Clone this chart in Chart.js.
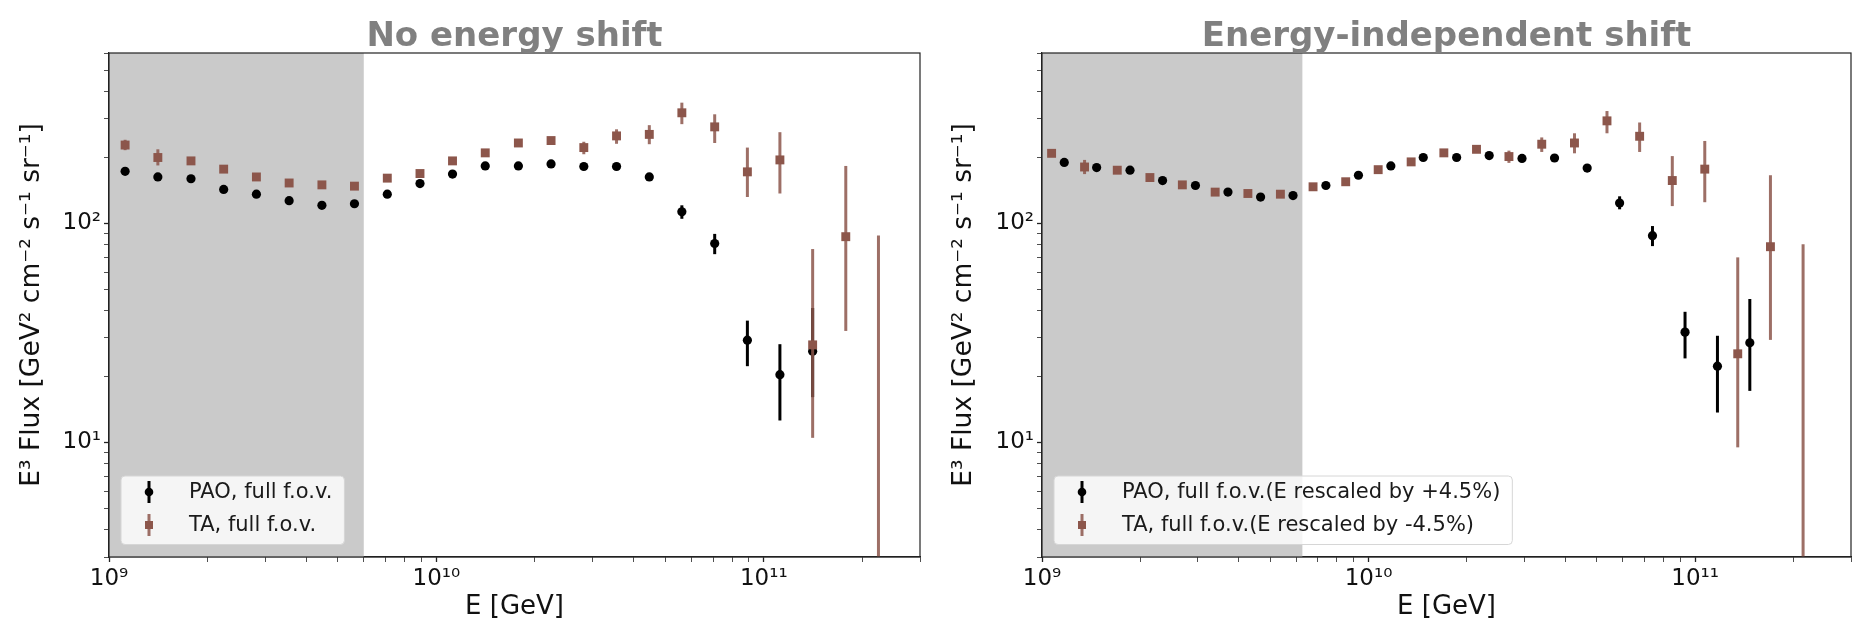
<!DOCTYPE html>
<html>
<head>
<meta charset="utf-8">
<script src="https://cdn.jsdelivr.net/npm/chart.js@4.4.0/dist/chart.umd.min.js"></script>
<style>
  html, body { margin: 0; padding: 0; background: #fff; }
  .panel { position: absolute; top: 0; width: 932px; height: 635px; }
  #left { left: 0; }
  #right { left: 932px; }
</style>
</head>
<body>
<div class="panel" id="left"><canvas id="chartLeft" width="932" height="635"></canvas></div>
<div class="panel" id="right"><canvas id="chartRight" width="932" height="635"></canvas></div>
<script>
const N = null;

// energy bins (GeV), no shift
const eBins = [1.12e9, 1.41e9, 1.78e9, 2.24e9, 2.82e9, 3.55e9, 4.47e9, 5.62e9, 7.08e9, 8.91e9,
  1.12e10, 1.41e10, 1.78e10, 2.24e10, 2.82e10, 3.55e10, 4.47e10, 5.62e10, 7.08e10, 8.91e10,
  1.12e11, 1.41e11, 1.78e11, 2.24e11];

// left panel: no energy shift
const paoFlux = [173, 163, 160, 143, 136, 127, 121, 123, 136, 152, 168, 183, 183, 187, 182, 182, 163, 113, 81, 29.3, 20.4, 26.1];
const paoLo = [N, N, N, N, N, N, N, N, N, N, N, N, N, N, N, N, N, 105, 72.4, 22.3, 12.6, 16.1];
const paoHi = [N, N, N, N, N, N, N, N, N, N, N, N, N, N, N, N, N, 121, 89.6, 36.0, 28.1, 41.1];

const taFlux = [228, 200, 193, 177, 163, 153, 150, 148, 161, 169, 193, 210, 233, 239, 222, 251, 255, 320, 276, 172, 195, 27.9, 87, 2];
const taLo = [216, 184, N, N, N, N, N, N, N, N, N, N, N, N, 207, 231, 230, 284, 233, 132, 137, 10.5, 32.3, 0.5];
const taHi = [241, 218, N, N, N, N, N, N, N, N, N, N, N, N, 236, 269, 281, 356, 315, 222, 261, 76.4, 183, 88];

// right panel: energy-independent shift (PAO +4.5%, TA -4.5%)
const paoShiftE = [1.17e9, 1.47e9, 1.86e9, 2.34e9, 2.95e9, 3.71e9, 4.67e9, 5.87e9, 7.40e9, 9.31e9,
  1.17e10, 1.47e10, 1.86e10, 2.34e10, 2.95e10, 3.71e10, 4.67e10, 5.87e10, 7.40e10, 9.31e10,
  1.17e11, 1.47e11];
const paoShiftFlux = [190, 180, 175, 157, 149, 139, 132, 134, 149, 166, 183, 200, 200, 204, 198, 199, 179, 124, 87.9, 31.9, 22.3, 28.5];
const paoShiftLo = [N, N, N, N, N, N, N, N, N, N, N, N, N, N, N, N, N, 116, 78.8, 24.2, 13.7, 17.2];
const paoShiftHi = [N, N, N, N, N, N, N, N, N, N, N, N, N, N, N, N, N, 133, 97.3, 39.5, 30.7, 45.2];

const taShiftE = [1.07e9, 1.35e9, 1.70e9, 2.14e9, 2.69e9, 3.39e9, 4.27e9, 5.37e9, 6.76e9, 8.51e9,
  1.07e10, 1.35e10, 1.70e10, 2.14e10, 2.69e10, 3.39e10, 4.27e10, 5.37e10, 6.76e10, 8.51e10,
  1.07e11, 1.35e11, 1.70e11, 2.14e11];
const taShiftFlux = [209, 181, 175, 162, 150, 139, 137, 136, 147, 155, 176, 191, 210, 218, 202, 230, 233, 294, 250, 157, 177, 25.4, 78.3, 1.8];
const taShiftLo = [201, 168, N, N, N, N, N, N, N, N, N, N, N, N, 189, 212, 209, 258, 212, 120, 125, 9.5, 29.4, 0.5];
const taShiftHi = [218, 195, N, N, N, N, N, N, N, N, N, N, N, N, 215, 247, 258, 326, 289, 203, 238, 70, 166, 80.3];

// axes
const xRange = [1e9, 3e11];
const yRange = [3, 600];
const xMajor = [1e9, 1e10, 1e11];
const xTickLabels = ['10⁹', '10¹⁰', '10¹¹'];
const yMajor = [10, 100];
const yTickLabels = ['10¹', '10²'];

const family = "'DejaVu Sans', sans-serif";
const brown = '#8c564b';
const brownBar = 'rgba(140, 86, 75, 0.85)';

function logTicks(min, max) {
  const t = [];
  for (let e = Math.floor(Math.log10(min)); e <= Math.ceil(Math.log10(max)); e++) {
    for (let m = 1; m < 10; m++) {
      const v = m * Math.pow(10, e);
      if (v >= min * 0.999 && v <= max * 1.001) t.push({ value: v, major: m === 1 });
    }
  }
  return t;
}

function labelFor(v, majors, labels) {
  const i = majors.findIndex(m => Math.abs(m - v) / m < 1e-6);
  return i >= 0 ? labels[i] : '';
}

// shaded region + error bars + frame + title + legend
const decor = {
  id: 'decor',
  beforeDatasetsDraw(chart, args, opts) {
    const { ctx, chartArea: a, scales: { x } } = chart;
    const xr = x.getPixelForValue(opts.shadeTo);
    ctx.save();
    ctx.fillStyle = '#cacaca';
    ctx.fillRect(a.left, a.top, xr - a.left, a.bottom - a.top);
    ctx.restore();
  },
  beforeDatasetDraw(chart, args) {
    const ds = chart.data.datasets[args.index];
    if (!ds.errLo) return;
    const { ctx, chartArea: a, scales: { x, y } } = chart;
    ctx.save();
    ctx.beginPath();
    ctx.rect(a.left, a.top, a.right - a.left, a.bottom - a.top);
    ctx.clip();
    ctx.strokeStyle = ds.barColor;
    ctx.lineWidth = 3;
    ds.data.forEach((p, i) => {
      const lo = ds.errLo[i], hi = ds.errHi[i];
      if (lo == null || hi == null) return;
      const px = x.getPixelForValue(p.x);
      ctx.beginPath();
      ctx.moveTo(px, y.getPixelForValue(lo));
      ctx.lineTo(px, y.getPixelForValue(hi));
      ctx.stroke();
    });
    ctx.restore();
  },
  afterDraw(chart, args, opts) {
    const { ctx, chartArea: a } = chart;
    ctx.save();
    // frame
    ctx.strokeStyle = '#222';
    ctx.lineWidth = 1.2;
    ctx.strokeRect(a.left, a.top, a.right - a.left, a.bottom - a.top);
    // title
    ctx.fillStyle = '#808080';
    ctx.font = 'bold 34px ' + family;
    ctx.textAlign = 'center';
    ctx.textBaseline = 'alphabetic';
    ctx.fillText(opts.title, (a.left + a.right) / 2, 46);
    // legend
    ctx.font = '21px ' + family;
    const items = chart.data.datasets;
    const textW = Math.max(...items.map(d => ctx.measureText(d.label).width));
    const bx = a.left + 12, by = a.bottom - 81, bw = 70 + textW + 10, bh = 68.5;
    ctx.beginPath();
    ctx.roundRect(bx, by, bw, bh, 4);
    ctx.fillStyle = 'rgba(255,255,255,0.8)';
    ctx.fill();
    ctx.strokeStyle = '#d6d6d6';
    ctx.lineWidth = 1;
    ctx.stroke();
    ctx.textAlign = 'left';
    ctx.textBaseline = 'middle';
    [0, 1].forEach(k => {
      const d = items[k];
      const ry = a.bottom - 65 + k * 33;
      const mx = a.left + 40;
      ctx.strokeStyle = d.barColor;
      ctx.lineWidth = 3;
      ctx.beginPath();
      ctx.moveTo(mx, ry - 11);
      ctx.lineTo(mx, ry + 11);
      ctx.stroke();
      ctx.fillStyle = d.backgroundColor;
      if (d.pointStyle === 'circle') {
        ctx.beginPath();
        ctx.arc(mx, ry, 4.3, 0, Math.PI * 2);
        ctx.fill();
      } else {
        ctx.fillRect(mx - 4, ry - 4, 8, 8);
      }
      ctx.fillStyle = '#1a1a1a';
      ctx.fillText(d.label, a.left + 80, ry + 1);
    });
    ctx.restore();
  }
};

function makePanel(canvasId, cfg) {
  return new Chart(document.getElementById(canvasId), {
    type: 'scatter',
    plugins: [decor],
    data: {
      datasets: [
        {
          label: cfg.paoLabel,
          data: cfg.paoE.map((x, i) => ({ x, y: cfg.paoFlux[i] })),
          errLo: cfg.paoLo, errHi: cfg.paoHi, barColor: '#000',
          pointStyle: 'circle', pointRadius: 4.6, backgroundColor: '#000',
          borderWidth: 0, clip: 0, order: 1
        },
        {
          label: cfg.taLabel,
          data: cfg.taE.map((x, i) => ({ x, y: cfg.taFlux[i] })),
          errLo: cfg.taLo, errHi: cfg.taHi, barColor: brownBar,
          pointStyle: 'rect', pointRadius: 6.3, backgroundColor: brown,
          borderWidth: 0, clip: 0, order: 0
        }
      ]
    },
    options: {
      responsive: false,
      animation: false,
      events: [],
      layout: { padding: { left: 0, right: cfg.padRight, top: 53, bottom: 0 } },
      plugins: {
        legend: { display: false },
        tooltip: { enabled: false },
        decor: { title: cfg.title, shadeTo: cfg.shadeTo }
      },
      scales: {
        x: {
          type: 'logarithmic',
          min: xRange[0], max: xRange[1],
          afterFit: s => { s.height = 78; },
          afterBuildTicks: s => { s.ticks = logTicks(xRange[0], xRange[1]); },
          ticks: {
            autoSkip: false, maxRotation: 0, minRotation: 0, padding: 3, color: '#111',
            font: { family, size: 23 },
            callback: v => labelFor(v, xMajor, xTickLabels)
          },
          grid: {
            drawOnChartArea: false, drawTicks: true, tickLength: 5,
            tickColor: '#222',
            tickWidth: c => (c.tick && c.tick.major ? 1.3 : 0.8)
          },
          border: { display: true, color: '#222', width: 1.2 },
          title: {
            display: true, text: 'E [GeV]', color: '#111',
            font: { family, size: 26 }, padding: { top: 0, bottom: 12 }
          }
        },
        y: {
          type: 'logarithmic',
          min: yRange[0], max: yRange[1],
          afterFit: s => { s.width = cfg.yWidth; },
          afterBuildTicks: s => { s.ticks = logTicks(yRange[0], yRange[1]); },
          ticks: {
            autoSkip: false, padding: 3, color: '#111',
            font: { family, size: 23 },
            callback: v => labelFor(v, yMajor, yTickLabels)
          },
          grid: {
            drawOnChartArea: false, drawTicks: true, tickLength: 5,
            tickColor: '#222',
            tickWidth: c => (c.tick && c.tick.major ? 1.3 : 0.8)
          },
          border: { display: true, color: '#222', width: 1.2 },
          title: {
            display: true, text: 'E³ Flux [GeV² cm⁻² s⁻¹ sr⁻¹]', color: '#111',
            font: { family, size: 26.5 }, padding: { top: 16, bottom: 0 }
          }
        }
      }
    }
  });
}

makePanel('chartLeft', {
  title: 'No energy shift', shadeTo: 6.0e9, yWidth: 109, padRight: 12,
  paoLabel: 'PAO, full f.o.v.', taLabel: 'TA, full f.o.v.',
  paoE: eBins, paoFlux, paoLo, paoHi,
  taE: eBins, taFlux, taLo, taHi
});

makePanel('chartRight', {
  title: 'Energy-independent shift', shadeTo: 6.27e9, yWidth: 110, padRight: 13,
  paoLabel: 'PAO, full f.o.v.(E rescaled by +4.5%)', taLabel: 'TA, full f.o.v.(E rescaled by -4.5%)',
  paoE: paoShiftE, paoFlux: paoShiftFlux, paoLo: paoShiftLo, paoHi: paoShiftHi,
  taE: taShiftE, taFlux: taShiftFlux, taLo: taShiftLo, taHi: taShiftHi
});
</script>
</body>
</html>
